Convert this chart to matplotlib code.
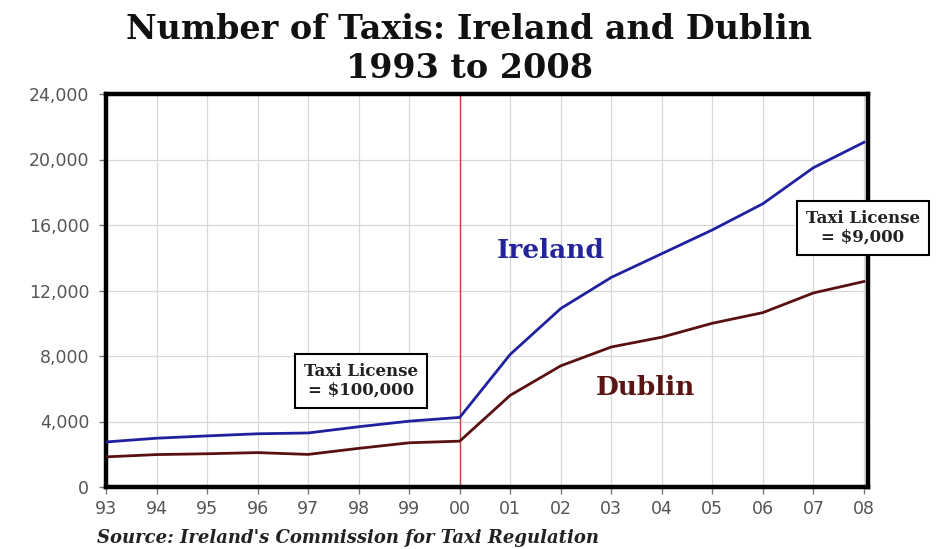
import matplotlib
matplotlib.use("Agg")
import matplotlib.pyplot as plt
from matplotlib.ticker import FuncFormatter

years = [1993, 1994, 1995, 1996, 1997, 1998, 1999, 2000,
         2001, 2002, 2003, 2004, 2005, 2006, 2007, 2008]
ireland = [2750, 2980, 3120, 3250, 3300, 3680, 4020, 4250,
           8100, 10900, 12800, 14250, 15700, 17300, 19500, 21050]
dublin = [1840, 1980, 2030, 2100, 1990, 2360, 2700, 2800,
          5600, 7400, 8550, 9150, 10000, 10650, 11850, 12550]
xtick_labels = ["93", "94", "95", "96", "97", "98", "99", "00",
                "01", "02", "03", "04", "05", "06", "07", "08"]
yticks = [0, 4000, 8000, 12000, 16000, 20000, 24000]

serif = ["DejaVu Serif"]
sans = ["DejaVu Sans"]

fig = plt.figure(figsize=(9.39, 5.49), dpi=100)
ax = fig.add_axes([106/939, 62/549, 762/939, 393/549])

ax.plot(years, ireland, color="#2020a0", lw=2.0, zorder=3)
ax.plot(years, dublin, color="#5a1010", lw=2.0, zorder=3)
ax.axvline(2000, color="#c04040", lw=1.0, zorder=2)

ax.set_xlim(1993, 2008.08)
ax.set_ylim(0, 24000)
ax.set_xticks(years)
ax.set_xticklabels(xtick_labels)
ax.set_yticks(yticks)
ax.yaxis.set_major_formatter(FuncFormatter(lambda v, p: f"{int(v):,}"))
ax.grid(True, color="#d8d8d8", lw=0.9, zorder=0)
for s in ax.spines.values():
    s.set_linewidth(3.2)
    s.set_color("black")
ax.tick_params(axis="both", direction="out", length=5, width=1,
               color="#777777", labelcolor="#555555", labelsize=12.5)
ax.tick_params(axis="x", pad=4)
ax.tick_params(axis="y", pad=7)
for lab in ax.get_xticklabels() + ax.get_yticklabels():
    lab.set_family(sans)

fig.text(0.5, 1 - 39/549, "Number of Taxis: Ireland and Dublin", ha="center",
         va="baseline", fontsize=24, fontweight="bold", family=serif, color="#111111")
fig.text(0.5, 1 - 78/549, "1993 to 2008", ha="center", va="baseline",
         fontsize=24, fontweight="bold", family=serif, color="#111111")

ax.text(2001.8, 14470, "Ireland", ha="center", va="center", fontsize=19,
        fontweight="bold", family=serif, color="#24249a", zorder=4)
ax.text(2003.67, 6100, "Dublin", ha="center", va="center", fontsize=19,
        fontweight="bold", family=serif, color="#5a1414", zorder=4)

bbox = dict(boxstyle="square,pad=0.55", fc="white", ec="black", lw=1.5)
ax.text(1998.05, 6470, "Taxi License\n= $100,000", ha="center", va="center",
        fontsize=12, fontweight="bold", family=serif, color="#222222",
        bbox=bbox, zorder=5, linespacing=1.1)
fig.text(863/939, 1 - 228/549, "Taxi License\n= $9,000", ha="center", va="center",
         fontsize=12, fontweight="bold", family=serif, color="#222222",
         bbox=bbox, zorder=5, linespacing=1.1)

fig.text(97/939, 1 - 538/549, "Source: Ireland's Commission for Taxi Regulation",
         ha="left", va="center", fontsize=13, fontweight="bold", style="italic",
         family=serif, color="#222222")

fig.savefig("out.png", dpi=100)
